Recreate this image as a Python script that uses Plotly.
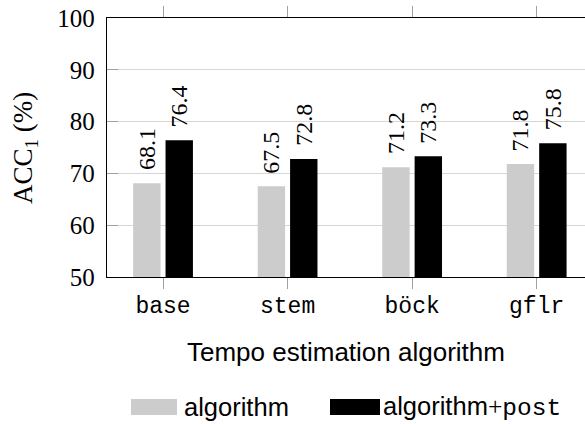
import plotly.graph_objects as go

categories = ["base", "stem", "böck", "gflr"]
algorithm = [68.1, 67.5, 71.2, 71.8]
algorithm_post = [76.4, 72.8, 73.3, 75.8]
y_ticks = [50, 60, 70, 80, 90, 100]

W, H = 585, 424
L, T, R, B = 107, 18, 0, 147
PW, PH = W - L - R, H - T - B

def px(x):
    return (x - L) / PW

def py(y):
    return (H - B - y) / PH

xs = list(range(len(categories)))
serif = "Liberation Serif"
mono = "Liberation Mono"
sans = "Liberation Sans"
BW = 0.22
OFF_A, OFF_B = -0.24, 0.02

fig = go.Figure()
fig.add_trace(go.Bar(
    x=xs, y=algorithm, width=BW, offset=OFF_A,
    marker=dict(color="#cccccc", line=dict(width=0)),
    name="algorithm", showlegend=False))
fig.add_trace(go.Bar(
    x=xs, y=algorithm_post, width=BW, offset=OFF_B,
    marker=dict(color="black", line=dict(width=0)),
    name="algorithm+post", showlegend=False))

annotations = []
for series, off in ((algorithm, OFF_A), (algorithm_post, OFF_B)):
    for i, v in zip(xs, series):
        annotations.append(dict(
            text=f"{v:.1f}", x=i + off + BW / 2, y=v, xref="x", yref="y",
            showarrow=False, xanchor="center", yanchor="bottom", textangle=-90,
            yshift=11, font=dict(family=serif, size=24, color="black")))

annotations += [
    dict(text="Tempo estimation algorithm", x=px(346), y=py(352), xref="paper", yref="paper",
         showarrow=False, xanchor="center", yanchor="middle",
         font=dict(family=sans, size=26, color="black")),
    dict(text="ACC<sub>1</sub>\u00a0(%)", x=px(25), y=py(148), xref="paper", yref="paper",
         showarrow=False, xanchor="center", yanchor="middle", textangle=-90,
         font=dict(family=serif, size=27, color="black")),
    dict(text="algorithm", x=px(182), y=py(407), xref="paper", yref="paper",
         showarrow=False, xanchor="left", yanchor="middle",
         font=dict(family=sans, size=25.5, color="black")),
    dict(text="algorithm<span style='font-family:Liberation Serif'>+</span><span style='font-family:Liberation Mono;font-size:24.5px'>post</span>",
         x=px(381), y=py(407), xref="paper", yref="paper",
         showarrow=False, xanchor="left", yanchor="middle",
         font=dict(family=sans, size=25.5, color="black")),
]

fig.update_layout(
    width=W, height=H,
    margin=dict(l=L, r=R, t=T, b=B, pad=0),
    plot_bgcolor="white", paper_bgcolor="white",
    barmode="overlay",
    xaxis=dict(
        range=[-0.45, 3.388], tickmode="array", tickvals=xs, ticktext=categories,
        ticks="outside", ticklen=11, tickcolor="#a0a0a0", tickwidth=1,
        showline=True, linecolor="black", linewidth=1.3, mirror="ticks",
        showgrid=False, zeroline=False,
        tickfont=dict(family=mono, size=23, color="black"),
        ticklabelstandoff=-4,
    ),
    yaxis=dict(
        range=[50, 100], tickmode="array", tickvals=y_ticks,
        ticks="inside", ticklen=11, tickcolor="#a0a0a0", tickwidth=1,
        showline=True, linecolor="black", linewidth=1.3,
        showgrid=True, gridcolor="#d6d6d6", gridwidth=1, zeroline=False,
        tickfont=dict(family=serif, size=25, color="black"),
        ticklabelstandoff=6,
    ),
    annotations=annotations,
    shapes=[
        dict(type="rect", xref="paper", yref="paper", x0=px(131), x1=px(177), y0=py(399), y1=py(415),
             fillcolor="#cccccc", line=dict(width=0)),
        dict(type="rect", xref="paper", yref="paper", x0=px(330), x1=px(380), y0=py(399), y1=py(415),
             fillcolor="black", line=dict(width=0)),
    ],
)

fig.write_html("out.html", config={"displayModeBar": False},
               post_script="document.body.style.margin='0px';")
